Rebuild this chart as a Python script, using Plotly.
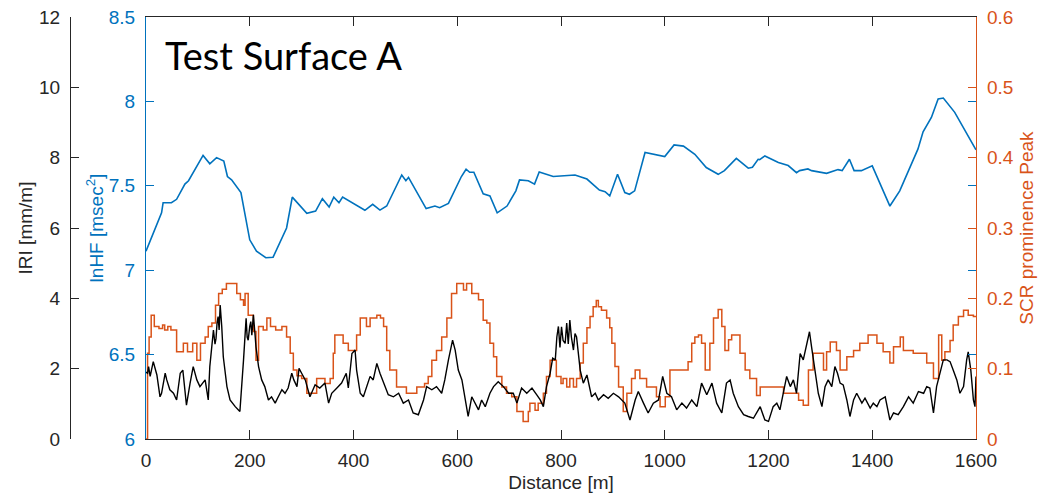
import plotly.graph_objects as go

# ---------------- data ----------------
lnhf_dist = [0, 30, 33, 49, 59, 75, 82, 110, 123, 136, 150, 157, 165, 183, 200, 213, 231, 239, 245, 271,
             282, 310, 327, 340, 353, 362, 372, 379, 422, 437, 451, 464, 493, 501, 506, 540, 557, 566, 583,
             608, 617, 624, 632, 650, 663, 677, 696, 713, 720, 737, 749, 758, 785, 827, 850, 874, 885, 894,
             909, 923, 932, 942, 962, 1000, 1018, 1036, 1058, 1080, 1103, 1115, 1138, 1161, 1169, 1180, 1183,
             1193, 1219, 1238, 1254, 1260, 1276, 1283, 1312, 1334, 1342, 1356, 1365, 1379, 1400, 1434, 1453,
             1488, 1498, 1514, 1527, 1537, 1559, 1600]
lnhf_vals = [7.113, 7.34, 7.40, 7.40, 7.42, 7.51, 7.53, 7.68, 7.63, 7.667, 7.647, 7.555, 7.535, 7.46, 7.18,
             7.113, 7.074, 7.078, 7.077, 7.25, 7.433, 7.337, 7.35, 7.424, 7.374, 7.433, 7.40, 7.433, 7.355,
             7.39, 7.356, 7.38, 7.564, 7.53, 7.55, 7.365, 7.38, 7.37, 7.396, 7.555, 7.598, 7.58, 7.58, 7.453,
             7.44, 7.34, 7.38, 7.47, 7.535, 7.53, 7.51, 7.582, 7.555, 7.564, 7.54, 7.475, 7.465, 7.44, 7.568,
             7.46, 7.45, 7.47, 7.697, 7.673, 7.742, 7.735, 7.687, 7.608, 7.568, 7.59, 7.662, 7.604, 7.61,
             7.657, 7.655, 7.677, 7.638, 7.62, 7.578, 7.59, 7.60, 7.59, 7.574, 7.596, 7.59, 7.657, 7.59, 7.59,
             7.618, 7.38, 7.47, 7.717, 7.82, 7.905, 8.014, 8.02, 7.935, 7.713]

iri_dist = [0, 3, 5, 8, 14, 17, 21, 27, 30, 37, 40, 46, 53, 59, 66, 71, 75, 78, 85, 91, 98, 104, 114, 120,
            123, 127, 130, 133, 135, 137, 139, 141, 143, 146, 149, 156, 162, 172, 181, 188, 191, 193, 195,
            197, 200, 202, 204, 207, 210, 212, 217, 223, 229, 236, 242, 249, 255, 262, 268, 274, 281, 285,
            291, 295, 300, 307, 316, 326, 335, 345, 352, 358, 368, 377, 386, 390, 397, 403, 406, 413, 419,
            425, 432, 438, 445, 451, 458, 467, 477, 487, 496, 506, 515, 525, 535, 541, 551, 560, 570, 576,
            583, 591, 596, 602, 609, 615, 621, 628, 634, 641, 647, 654, 663, 670, 679, 689, 699, 708, 715,
            724, 734, 744, 753, 760, 766, 772, 779, 784, 789, 792, 795, 798, 801, 804, 808, 811, 814, 817,
            820, 824, 827, 830, 837, 843, 850, 859, 866, 872, 882, 891, 901, 911, 923, 933, 943, 949, 959,
            968, 978, 988, 996, 1004, 1013, 1023, 1033, 1042, 1052, 1062, 1071, 1081, 1091, 1100, 1110,
            1119, 1126, 1132, 1142, 1152, 1161, 1171, 1177, 1184, 1193, 1200, 1209, 1216, 1222, 1229, 1235,
            1242, 1248, 1254, 1261, 1267, 1271, 1274, 1279, 1283, 1290, 1296, 1303, 1309, 1315, 1322, 1328,
            1333, 1338, 1344, 1351, 1357, 1364, 1370, 1380, 1386, 1396, 1402, 1409, 1415, 1425, 1434, 1441,
            1450, 1460, 1470, 1479, 1489, 1499, 1505, 1511, 1518, 1524, 1531, 1537, 1544, 1550, 1556, 1563,
            1569, 1576, 1582, 1585, 1590, 1595, 1598, 1600]
iri_vals = [1.9, 1.87, 2.06, 1.78, 2.2, 2.06, 1.82, 1.2, 1.3, 1.87, 1.68, 1.4, 1.3, 1.11, 1.87, 1.96, 1.4,
            0.96, 1.59, 2.06, 1.68, 1.49, 1.68, 1.11, 2.06, 2.8, 3.10, 2.7, 2.86, 3.3, 3.48, 3.1, 3.81, 3.2,
            2.34, 1.49, 1.11, 0.92, 0.78, 2.25, 3.0, 3.43, 2.9, 2.81, 3.2, 3.34, 2.95, 3.53, 3.0, 2.62, 2.06,
            1.68, 1.49, 1.11, 1.2, 1.02, 1.2, 1.4, 1.3, 1.45, 1.87, 1.68, 1.49, 2.01, 1.87, 1.68, 1.2, 1.54,
            1.45, 1.59, 1.02, 1.3, 1.45, 1.59, 1.87, 1.45, 2.43, 2.53, 1.96, 1.3, 1.2, 1.49, 1.78, 1.68, 2.15,
            1.87, 1.59, 1.26, 1.2, 1.3, 1.02, 1.11, 0.74, 0.69, 1.11, 1.49, 1.4, 1.49, 1.3, 1.68, 2.25, 2.81,
            2.53, 1.96, 1.68, 1.11, 0.64, 1.2, 1.02, 0.83, 1.11, 0.92, 1.3, 1.49, 1.63, 1.49, 1.3, 1.3, 1.02,
            1.45, 1.3, 1.45, 1.26, 1.11, 0.92, 1.49, 1.87, 2.3, 2.25, 2.9, 3.2, 2.6, 3.19, 2.8, 2.72, 3.3,
            2.7, 3.38, 2.9, 2.53, 3.0, 2.9, 1.96, 1.59, 1.82, 1.2, 1.3, 1.11, 1.26, 1.16, 1.3, 1.2, 1.02, 0.54,
            1.11, 1.35, 1.02, 0.74, 1.02, 1.11, 1.78, 1.3, 1.2, 0.83, 1.02, 0.88, 1.11, 0.92, 1.59, 1.26, 1.59,
            1.02, 0.74, 1.59, 1.68, 1.3, 0.92, 0.69, 0.64, 0.59, 0.74, 0.92, 0.54, 0.5, 0.92, 1.02, 0.83, 1.3,
            1.78, 1.49, 1.68, 1.3, 2.43, 2.25, 2.5, 2.72, 3.05, 2.62, 1.96, 1.3, 0.92, 1.49, 1.68, 1.49, 2.06,
            1.87, 1.59, 1.54, 1.11, 0.64, 1.11, 1.3, 1.02, 1.16, 0.88, 1.02, 0.92, 1.11, 1.2, 0.54, 0.74, 0.69,
            0.92, 1.2, 1.02, 1.35, 1.3, 1.49, 1.45, 0.74, 1.49, 1.87, 2.25, 2.25, 2.2, 1.96, 1.68, 1.3, 1.49,
            2.25, 2.48, 1.96, 1.11, 0.92, 1.78]

scr_dist = [0, 3, 6, 10, 16, 25, 32, 36, 42, 48, 59, 72, 80, 90, 98, 105, 114, 120, 127, 134, 140, 147,
            155, 175, 182, 188, 191, 197, 207, 212, 217, 226, 233, 240, 250, 262, 271, 278, 284, 291, 300,
            310, 329, 345, 355, 361, 364, 380, 390, 406, 413, 425, 432, 445, 452, 458, 464, 470, 483, 502,
            522, 537, 544, 551, 560, 570, 580, 589, 599, 612, 618, 628, 641, 650, 657, 663, 670, 676, 686,
            695, 705, 715, 727, 737, 740, 750, 756, 766, 772, 779, 791, 800, 804, 811, 817, 824, 830, 837,
            843, 850, 856, 862, 868, 872, 878, 888, 894, 898, 904, 911, 920, 927, 936, 943, 952, 965, 984,
            991, 1001, 1010, 1045, 1052, 1058, 1065, 1071, 1078, 1087, 1094, 1103, 1110, 1116, 1123, 1129,
            1145, 1155, 1164, 1177, 1184, 1229, 1258, 1267, 1277, 1286, 1306, 1312, 1319, 1331, 1338, 1351,
            1364, 1376, 1392, 1409, 1421, 1434, 1441, 1454, 1460, 1479, 1505, 1518, 1528, 1534, 1540, 1550,
            1556, 1566, 1576, 1585, 1595, 1600]
scr_vals = [0, 0.122, 0.145, 0.176, 0.160, 0.157, 0.162, 0.155, 0.160, 0.155, 0.124, 0.136, 0.124, 0.136,
            0.112, 0.136, 0.145, 0.160, 0.165, 0.190, 0.207, 0.213, 0.221, 0.207, 0.198, 0.190, 0.207, 0.176,
            0.153, 0.112, 0.160, 0.155, 0.172, 0.160, 0.155, 0.160, 0.145, 0.122, 0.098, 0.090, 0.086, 0.065,
            0.086, 0.079, 0.086, 0.122, 0.148, 0.136, 0.126, 0.148, 0.172, 0.160, 0.172, 0.176, 0.172, 0.160,
            0.126, 0.098, 0.074, 0.065, 0.074, 0.079, 0.089, 0.112, 0.126, 0.145, 0.172, 0.207, 0.221, 0.212,
            0.221, 0.207, 0.198, 0.169, 0.165, 0.136, 0.117, 0.089, 0.074, 0.065, 0.060, 0.039, 0.025, 0.039,
            0.051, 0.041, 0.051, 0.065, 0.089, 0.112, 0.089, 0.079, 0.086, 0.074, 0.086, 0.074, 0.086, 0.108,
            0.136, 0.158, 0.174, 0.188, 0.197, 0.188, 0.183, 0.172, 0.158, 0.136, 0.103, 0.074, 0.039, 0.065,
            0.086, 0.098, 0.086, 0.074, 0.060, 0.046, 0.060, 0.098, 0.110, 0.136, 0.145, 0.148, 0.136, 0.098,
            0.136, 0.172, 0.184, 0.160, 0.126, 0.141, 0.148, 0.122, 0.098, 0.086, 0.062, 0.074, 0.065, 0.055,
            0.048, 0.098, 0.122, 0.098, 0.124, 0.138, 0.126, 0.098, 0.117, 0.126, 0.136, 0.148, 0.136, 0.124,
            0.108, 0.131, 0.145, 0.126, 0.122, 0.108, 0.086, 0.148, 0.112, 0.124, 0.140, 0.162, 0.174, 0.183,
            0.176, 0.174, 0.174]

x_ticks = [0, 200, 400, 600, 800, 1000, 1200, 1400, 1600]
iri_ticks = [0, 2, 4, 6, 8, 10, 12]
lnhf_ticks = [6, 6.5, 7, 7.5, 8, 8.5]
scr_ticks = [0, 0.1, 0.2, 0.3, 0.4, 0.5, 0.6]
scr_ticklabels = ["0", "0.1", "0.2", "0.3", "0.4", "0.5", "0.6"]

BLUE = "#0072BD"
ORANGE = "#D95319"
DARK = "#262626"
W, H = 1038, 495
FONT = "Liberation Sans, Arial, sans-serif"

fig = go.Figure()
fig.add_trace(go.Scatter(x=lnhf_dist, y=lnhf_vals, mode="lines", yaxis="y",
                         line=dict(color=BLUE, width=1.6), showlegend=False))
fig.add_trace(go.Scatter(x=scr_dist, y=scr_vals, mode="lines", yaxis="y2", line_shape="hv",
                         line=dict(color=ORANGE, width=1.5), showlegend=False))
fig.add_trace(go.Scatter(x=iri_dist, y=iri_vals, mode="lines", yaxis="y3",
                         line=dict(color="black", width=1.4), showlegend=False))

x0, x1 = 146 / W, 976 / W
y0, y1 = 1 - 439 / H, 1 - 17 / H

fig.update_layout(
    width=W, height=H,
    margin=dict(l=0, r=0, t=0, b=0),
    paper_bgcolor="white", plot_bgcolor="white",
    font=dict(family=FONT, size=19, color=DARK),
    xaxis=dict(domain=[x0, x1], range=[0, 1600], tickvals=x_ticks, ticks="inside", ticklen=9,
               tickcolor=DARK, showline=True, linecolor=DARK, linewidth=1, mirror="ticks",
               showgrid=False, zeroline=False, ticklabelstandoff=4,
               title=dict(text="Distance [m]", standoff=5, font=dict(size=19, color=DARK)),
               automargin=False),
    yaxis=dict(domain=[y0, y1], range=[6, 8.5], tickvals=lnhf_ticks, ticks="inside", ticklen=8,
               tickcolor=BLUE, showline=True, linecolor=BLUE, linewidth=1.2, mirror="ticks",
               showgrid=False, zeroline=False, tickfont=dict(color=BLUE), ticklabelstandoff=6,
               title=dict(text="lnHF [msec<sup>2</sup>]", font=dict(color=BLUE, size=19), standoff=0),
               automargin=False),
    yaxis2=dict(overlaying="y", side="right", anchor="x", range=[0, 0.6], tickvals=scr_ticks,
                ticktext=scr_ticklabels, ticks="inside", ticklen=8, tickcolor=ORANGE, showline=True,
                linecolor=ORANGE, linewidth=1.2, showgrid=False, zeroline=False,
                tickfont=dict(color=ORANGE), ticklabelstandoff=6,
                title=dict(text="SCR prominence Peak", font=dict(color=ORANGE, size=19), standoff=6),
                automargin=False),
    yaxis3=dict(overlaying="y", side="left", anchor="free", position=70 / W, range=[0, 12],
                tickvals=iri_ticks, ticks="inside", ticklen=8, tickcolor=DARK, showline=True,
                linecolor=DARK, linewidth=1.2, showgrid=False, zeroline=False,
                tickfont=dict(color=DARK), ticklabelstandoff=6,
                title=dict(text="IRI [mm/m]", font=dict(color=DARK, size=19), standoff=0),
                automargin=False),
    annotations=[dict(text="Test Surface A", x=163 / W, y=1 - 55 / H, xref="paper", yref="paper",
                      xanchor="left", yanchor="middle", showarrow=False,
                      font=dict(family="Lato, Open Sans, sans-serif", size=38, color="black"))],
)

fig.write_html("out.html")
